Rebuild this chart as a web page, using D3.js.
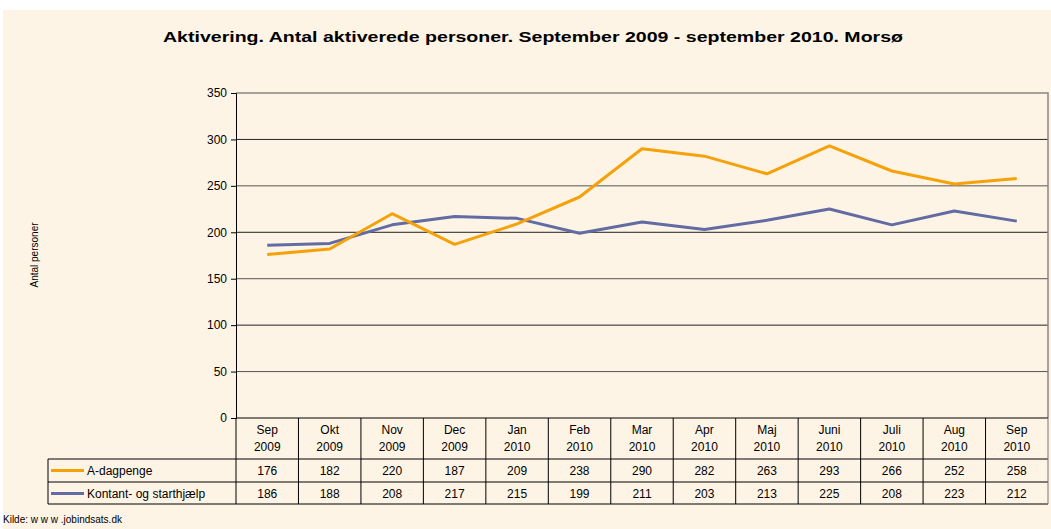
<!DOCTYPE html>
<html>
<head>
<meta charset="utf-8">
<script src="https://cdn.jsdelivr.net/npm/d3@7"></script>
<style>
  body { margin: 0; background: #fff; }
  svg { display: block; font-family: "Liberation Sans", Arial, sans-serif; }
</style>
</head>
<body>
<div id="chart"></div>
<script>
const months = [`Sep`, `Okt`, `Nov`, `Dec`, `Jan`, `Feb`, `Mar`, `Apr`, `Maj`, `Juni`, `Juli`, `Aug`, `Sep`];
const years = [`2009`, `2009`, `2009`, `2009`, `2010`, `2010`, `2010`, `2010`, `2010`, `2010`, `2010`, `2010`, `2010`];
const aDagpenge = [176, 182, 220, 187, 209, 238, 290, 282, 263, 293, 266, 252, 258];
const kontant = [186, 188, 208, 217, 215, 199, 211, 203, 213, 225, 208, 223, 212];
const yTicks = [0, 50, 100, 150, 200, 250, 300, 350];

const series = [
  { name: `A-dagpenge`, values: aDagpenge, color: `#F5A20A` },
  { name: `Kontant- og starthjælp`, values: kontant, color: `#636BA3` }
];

const width = 1051, height = 529;
const plot = { left: 236, right: 1048, top: 93, bottom: 418 };
const rows = { head: 459, r1: 482, r2: 504, legendLeft: 48 };

const svg = d3.select(`#chart`).append(`svg`)
    .attr(`width`, width)
    .attr(`height`, height);

svg.append(`rect`)
    .attr(`x`, 3).attr(`y`, 10)
    .attr(`width`, width - 3).attr(`height`, height - 10)
    .attr(`fill`, `#FEF4E6`);

svg.append(`text`)
    .attr(`x`, 533).attr(`y`, 42)
    .attr(`text-anchor`, `middle`)
    .attr(`font-size`, 15)
    .attr(`font-weight`, `bold`)
    .attr(`textLength`, 740)
    .attr(`lengthAdjust`, `spacingAndGlyphs`)
    .text(`Aktivering. Antal aktiverede personer. September 2009 - september 2010. Morsø`);

const idx = d3.range(months.length);
const x = d3.scaleBand().domain(idx).range([plot.left, plot.right]);
const y = d3.scaleLinear().domain([0, 350]).range([plot.bottom, plot.top]);

// gridlines
svg.append(`g`)
  .selectAll(`line`)
  .data(yTicks.filter((d) => d > 0 && d < 350))
  .enter().append(`line`)
    .attr(`x1`, plot.left).attr(`x2`, plot.right)
    .attr(`y1`, (d) => y(d)).attr(`y2`, (d) => y(d))
    .attr(`stroke`, (d) => d % 100 === 0 ? `#222` : `#555`)
    .attr(`stroke-width`, 1);

// plot frame (top / right)
svg.append(`path`)
    .attr(`d`, `M${plot.left},${y(350)}H${plot.right}V${plot.bottom}`)
    .attr(`fill`, `none`)
    .attr(`stroke`, `#8a8580`)
    .attr(`stroke-width`, 1.5);

// y axis
const yAxis = svg.append(`g`)
    .attr(`transform`, `translate(${plot.left},0)`)
    .call(d3.axisLeft(y).tickValues(yTicks).tickSize(5).tickPadding(4));
yAxis.select(`.domain`).attr(`stroke`, `#000`);
yAxis.selectAll(`.tick line`).attr(`stroke`, `#000`);
yAxis.selectAll(`.tick text`)
    .attr(`font-size`, 12)
    .attr(`font-family`, `"Liberation Sans", Arial, sans-serif`)
    .attr(`fill`, `#000`);

svg.append(`text`)
    .attr(`transform`, `translate(38,255) rotate(-90)`)
    .attr(`text-anchor`, `middle`)
    .attr(`font-size`, 10)
    .text(`Antal personer`);

// lines
const line = d3.line()
    .x((d, i) => x(i) + x.bandwidth() / 2)
    .y((d) => y(d));

svg.append(`g`)
  .selectAll(`path`)
  .data(series.slice().reverse())
  .enter().append(`path`)
    .attr(`d`, (d) => line(d.values))
    .attr(`fill`, `none`)
    .attr(`stroke`, (d) => d.color)
    .attr(`stroke-width`, 3)
    .attr(`stroke-linejoin`, `round`);

// data table
const table = svg.append(`g`).attr(`stroke`, `#000`).attr(`stroke-width`, 1);
table.append(`line`)
    .attr(`x1`, plot.left).attr(`x2`, plot.right)
    .attr(`y1`, plot.bottom).attr(`y2`, plot.bottom);
[rows.head, rows.r1, rows.r2].forEach((yy) => {
  table.append(`line`)
      .attr(`x1`, rows.legendLeft).attr(`x2`, plot.right)
      .attr(`y1`, yy).attr(`y2`, yy);
});
table.append(`line`)
    .attr(`x1`, rows.legendLeft).attr(`x2`, rows.legendLeft)
    .attr(`y1`, rows.head).attr(`y2`, rows.r2);
table.selectAll(`.vline`)
  .data(d3.range(months.length + 1))
  .enter().append(`line`)
    .attr(`x1`, (i) => plot.left + i * x.bandwidth())
    .attr(`x2`, (i) => plot.left + i * x.bandwidth())
    .attr(`y1`, plot.bottom).attr(`y2`, rows.r2)
    .attr(`stroke`, (i) => i === months.length ? `#777` : `#000`);

const cells = svg.append(`g`)
    .attr(`font-size`, 12)
    .attr(`text-anchor`, `middle`);

cells.selectAll(`.m`)
  .data(idx)
  .enter().append(`text`)
    .attr(`x`, (i) => x(i) + x.bandwidth() / 2)
    .attr(`y`, 434)
    .text((i) => months[i]);
cells.selectAll(`.yr`)
  .data(idx)
  .enter().append(`text`)
    .attr(`x`, (i) => x(i) + x.bandwidth() / 2)
    .attr(`y`, 451)
    .text((i) => years[i]);

series.forEach((s, k) => {
  const rowTop = k === 0 ? rows.head : rows.r1;
  const rowMid = rowTop + 11.5;
  cells.selectAll(`.v${k}`)
    .data(s.values)
    .enter().append(`text`)
      .attr(`x`, (d, i) => x(i) + x.bandwidth() / 2)
      .attr(`y`, rowMid + 4)
      .text((d) => d);
  svg.append(`line`)
      .attr(`x1`, 51).attr(`x2`, 84)
      .attr(`y1`, rowMid).attr(`y2`, rowMid)
      .attr(`stroke`, s.color)
      .attr(`stroke-width`, 3);
  svg.append(`text`)
      .attr(`x`, 87).attr(`y`, rowMid + 4)
      .attr(`font-size`, 12)
      .text(s.name);
});

svg.append(`text`)
    .attr(`x`, 3).attr(`y`, 523)
    .attr(`font-size`, 10)
    .text(`Kilde: w w w .jobindsats.dk`);
</script>
</body>
</html>
